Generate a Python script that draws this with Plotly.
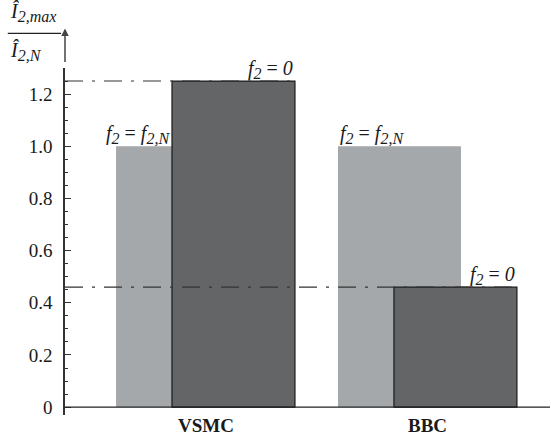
import plotly.graph_objects as go

categories = ["VSMC", "BBC"]
nominal_vals = [1.0, 1.0]      # f2 = f2,N
zero_vals = [1.25, 0.46]       # f2 = 0
y_tickvals = [0, 0.2, 0.4, 0.6, 0.8, 1.0, 1.2]
y_ticktext = ["0", "0.2", "0.4", "0.6", "0.8", "1.0", "1.2"]

FONT = "Liberation Serif, Times New Roman, serif"
LIGHT = "#a5a8ab"
DARK = "#646567"
BW = 0.554
SHIFT = 0.126

xs = list(range(len(categories)))

fig = go.Figure()
fig.add_trace(go.Bar(x=xs, y=nominal_vals, width=BW, offset=-SHIFT - BW / 2,
                     marker=dict(color=LIGHT, line=dict(width=0)), hoverinfo="skip"))
fig.add_trace(go.Bar(x=xs, y=zero_vals, width=BW, offset=SHIFT - BW / 2,
                     marker=dict(color=DARK, line=dict(color="#1a1a1a", width=1.2)), hoverinfo="skip"))

xmin, xmax = -0.633, 1.552

# dash-dot reference lines at the f2 = 0 values
for i, v in enumerate(zero_vals):
    fig.add_shape(type="line", xref="x", yref="y", x0=xmin, x1=i + SHIFT + BW / 2,
                  y0=v, y1=v, line=dict(color="#333333", width=1.1, dash="18px,9px,3px,9px"),
                  layer="above")

# baseline (x axis at zero)
fig.add_shape(type="line", xref="x", yref="y", x0=xmin, x1=xmax, y0=0, y1=0,
              line=dict(color="#222222", width=1.3), layer="above")


def sub(t, size=16):
    return "<sub><span style='font-size:%dpx'><i>%s</i></span></sub>" % (size, t)


lab_nom = "<i>f</i>" + sub("2") + " = <i>f</i>" + sub("2,N")
lab_zero = "<i>f</i>" + sub("2") + " = <i>0</i>"
nom_x = [0 + SHIFT - BW / 2, 1 - SHIFT - BW / 2]
nom_anchor = ["right", "left"]
for i in xs:
    fig.add_annotation(x=nom_x[i], y=nominal_vals[i], xref="x", yref="y", text=lab_nom,
                       showarrow=False, xanchor=nom_anchor[i], yanchor="bottom", yshift=-3,
                       font=dict(family=FONT, size=20, color="#1a1a1a"))
    fig.add_annotation(x=i + SHIFT + BW / 2, y=zero_vals[i], xref="x", yref="y", text=lab_zero,
                       showarrow=False, xanchor="right", yanchor="bottom", yshift=-3,
                       font=dict(family=FONT, size=20, color="#1a1a1a"))

# category labels
for i, c in enumerate(categories):
    fig.add_annotation(x=i, y=-0.03, xref="x", yref="paper", text="<b>%s</b>" % c,
                       showarrow=False, xanchor="center", yanchor="middle",
                       font=dict(family=FONT, size=19, color="#1a1a1a"))

# y axis arrow
fig.add_annotation(x=0, y=1.114, xref="paper", yref="paper", text="", showarrow=True,
                   ax=0, ay=35, arrowhead=2, arrowsize=1, arrowwidth=1.5, arrowcolor="#444")

# y title as a fraction
fig.add_annotation(xref="paper", yref="paper", x=-0.118, y=1.118, xanchor="left", yanchor="bottom",
                   text="<i>Î</i>" + sub("2,max", 16), showarrow=False,
                   font=dict(family=FONT, size=20, color="#1a1a1a"))
fig.add_shape(type="line", xref="paper", yref="paper", x0=-0.118, x1=-0.008, y0=1.1, y1=1.1,
              line=dict(color="#222", width=1.2))
fig.add_annotation(xref="paper", yref="paper", x=-0.118, y=1.088, xanchor="left", yanchor="top",
                   text="<i>Î</i>" + sub("2,N", 16), showarrow=False,
                   font=dict(family=FONT, size=20, color="#1a1a1a"))

fig.update_layout(
    width=551, height=438,
    margin=dict(l=65, r=1, t=68, b=23),
    paper_bgcolor="white", plot_bgcolor="white",
    barmode="overlay", showlegend=False,
    font=dict(family=FONT, size=18, color="#1a1a1a"),
    xaxis=dict(range=[xmin, xmax], showticklabels=False, showline=False, showgrid=False,
               zeroline=False, ticks="", automargin=False, fixedrange=True),
    yaxis=dict(range=[-0.03, 1.3], tickvals=y_tickvals, ticktext=y_ticktext, showgrid=False,
               zeroline=False, showline=True, linecolor="#333", linewidth=1.5,
               ticks="inside", ticklen=6, tickwidth=1.2, tickcolor="#333",
               minor=dict(dtick=0.05, ticks="inside", ticklen=3, tickwidth=1, tickcolor="#333"),
               ticklabelstandoff=7, automargin=False, fixedrange=True,
               tickfont=dict(family=FONT, size=19, color="#1a1a1a")),
)

fig.write_html("out.html", config={"displayModeBar": False},
               post_script="document.body.style.margin='0';")
